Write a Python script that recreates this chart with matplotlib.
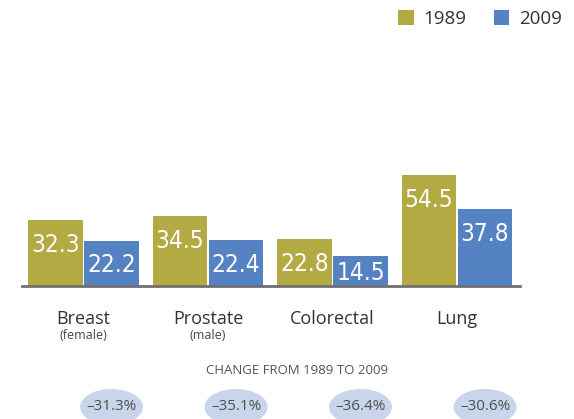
import matplotlib.pyplot as plt
import numpy as np
from matplotlib.patches import Ellipse
from matplotlib.transforms import ScaledTranslation

categories = ['Breast', 'Prostate', 'Colorectal', 'Lung']
sublabels = ['(female)', '(male)', '', '']
rates_1989 = [32.3, 34.5, 22.8, 54.5]
rates_2009 = [22.2, 22.4, 14.5, 37.8]
changes = ['\u201331.3%', '\u201335.1%', '\u201336.4%', '\u201330.6%']

olive = '#b4aa44'
blue = '#5582c2'
txt_font = ['Open Sans', 'DejaVu Sans']

fig = plt.figure(figsize=(5.74, 4.19), dpi=100)
ax = fig.add_axes([22 / 574, 133 / 419, 498 / 574, 122.4 / 419])
px_per_unit = 2.04

x = np.arange(len(categories))
w = 0.434
off = 0.225
b1 = ax.bar(x - off, rates_1989, w, color=olive, label='1989')
b2 = ax.bar(x + off, rates_2009, w, color=blue, label='2009')

ax.set_xlim(-0.494, 3.506)
ax.set_ylim(0, 60)
for s in ['top', 'right', 'left']:
    ax.spines[s].set_visible(False)
ax.spines['bottom'].set_color('#707070')
ax.spines['bottom'].set_linewidth(2)
ax.set_yticks([])
ax.set_xticks([])

# values inside bars (short bars get the label centred)
for xs, vals in [(x - off, rates_1989), (x + off, rates_2009)]:
    for xi, v in zip(xs, vals):
        drop = min(25, v * px_per_unit / 2 + 1.5) * 0.72
        ax.annotate(f'{v}', xy=(xi, v), xytext=(0, -drop), textcoords='offset points',
                    ha='center', va='center', color='white', fontsize=17.5,
                    family='DejaVu Sans', fontstretch='condensed')

# category labels
for xi, cat, sub in zip(x, categories, sublabels):
    ax.annotate(cat, xy=(xi, 0), xytext=(0, -24), textcoords='offset points',
                ha='center', va='center', color='#333333', fontsize=13,
                family=txt_font)
    if sub:
        ax.annotate(sub, xy=(xi, 0), xytext=(0, -35.5), textcoords='offset points',
                    ha='center', va='center', color='#444444', fontsize=9,
                    family=txt_font)

fig.text(297.5 / 574, 1 - 371 / 419, 'CHANGE FROM 1989 TO 2009', ha='center', va='center',
         color='#555555', fontsize=9.5, family=txt_font)

# percent change bubbles under the 2009 bars
for xi, c in zip(x + off, changes):
    tr = fig.dpi_scale_trans + ScaledTranslation(xi, 0, ax.transData)
    ax.add_patch(Ellipse((0, -1.21), 0.63, 0.36, transform=tr, fc='#c8d5ea',
                         ec='none', clip_on=False))
    ax.annotate(c, xy=(xi, 0), xytext=(0, -87), textcoords='offset points',
                ha='center', va='center', color='#505050', fontsize=11,
                family=txt_font)

fig.legend(handles=[b1, b2], loc='upper left', bbox_to_anchor=(398 / 574, 1 - 10 / 419),
           ncol=2, frameon=False, handlelength=0.85, handleheight=0.85,
           borderpad=0, borderaxespad=0,
           handletextpad=0.5, columnspacing=1.45, labelcolor='#333333',
           prop={'family': txt_font, 'size': 13.5})

fig.savefig('out.png', dpi=100)
